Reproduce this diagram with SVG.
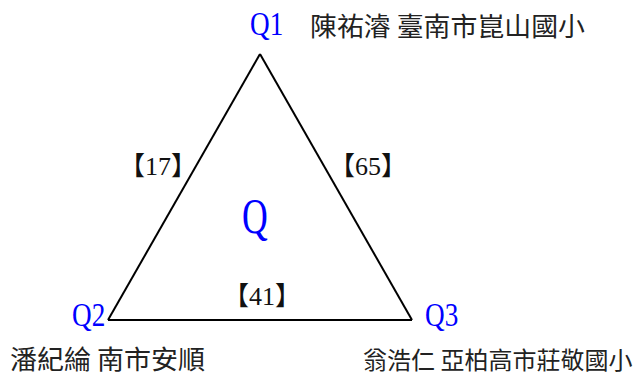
<svg xmlns="http://www.w3.org/2000/svg" width="638" height="376" viewBox="0 0 638 376">
<style>
.q{font-family:"Liberation Serif",serif;fill:#0000ff;font-size:34px}
.n{font-family:"Noto Sans CJK TC",sans-serif;fill:#222;font-size:26px}
.l{font-family:"Liberation Serif","Noto Sans CJK TC",serif;fill:#111;font-size:26px}
.e{stroke:#000;stroke-width:2;fill:none}
</style>
<rect width="638" height="376" fill="#fff"/>
<g id="connectors">
<line class="e" x1="260" y1="54" x2="108" y2="320"/>
<line class="e" x1="260" y1="54" x2="412" y2="320"/>
<line class="e" x1="108" y1="320" x2="412" y2="320"/>
<text class="l" x="158" y="175" text-anchor="middle">【17】</text>
<text class="l" x="368" y="175" text-anchor="middle">【65】</text>
<text class="l" x="262" y="305" text-anchor="middle">【41】</text>
</g>
<g id="Q"><text class="q" transform="translate(255,233) scale(0.7,1)" text-anchor="middle" style="font-size:51px">Q</text></g>
<g id="Q1"><text class="q" transform="translate(250,35) scale(0.8,1)">Q1</text><text class="n" x="310" y="36" textLength="275" lengthAdjust="spacingAndGlyphs">陳祐濬 臺南市崑山國小</text></g>
<g id="Q2"><text class="q" transform="translate(72,326) scale(0.8,1)">Q2</text><text class="n" x="10" y="369" textLength="195" lengthAdjust="spacingAndGlyphs">潘紀綸 南市安順</text></g>
<g id="Q3"><text class="q" transform="translate(425,326) scale(0.8,1)">Q3</text><text class="n" x="363" y="369" style="font-size:24px">翁浩仁 亞柏高市莊敬國小</text></g>
</svg>
